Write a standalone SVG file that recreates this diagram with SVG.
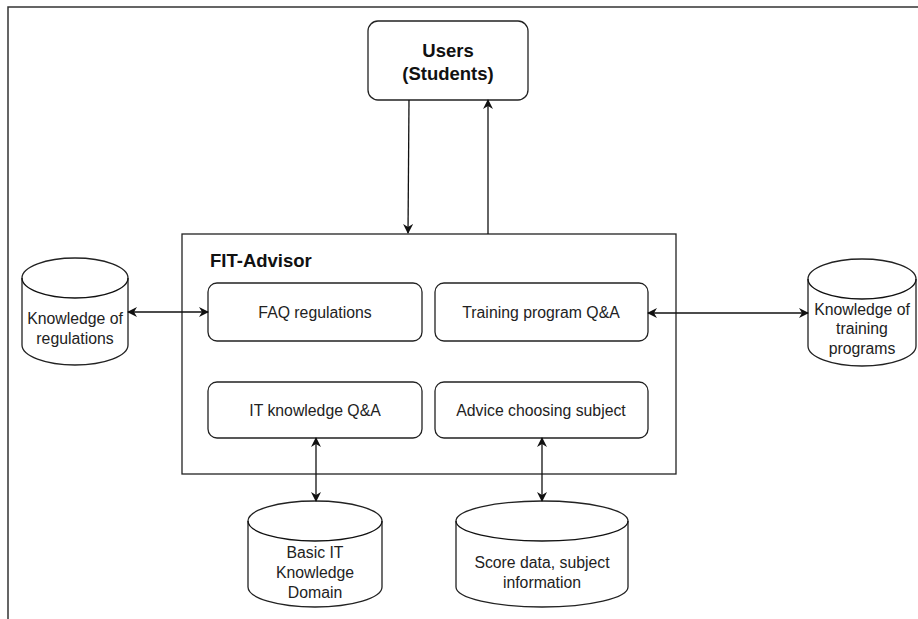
<svg xmlns="http://www.w3.org/2000/svg" width="918" height="619" viewBox="0 0 918 619">
<style>
.box{fill:#fff;stroke:#222;stroke-width:1.3}
.ln{fill:none;stroke:#111;stroke-width:1.3}
.t{font-family:"Liberation Sans",Arial,sans-serif;font-size:15.8px;fill:#222;text-anchor:middle}
.b{font-family:"Liberation Sans",Arial,sans-serif;font-size:18.5px;font-weight:bold;fill:#111}
</style>
<defs>
<marker id="ah" viewBox="0 0 10 10" refX="9" refY="5" markerWidth="10" markerHeight="10" orient="auto-start-reverse" markerUnits="userSpaceOnUse">
<path d="M0,0 L10,5 L0,10 L3,5 Z" fill="#111"/>
</marker>
</defs>
<rect width="918" height="619" fill="#fff"/>
<path d="M8,619 L8,7 L918,7" fill="none" stroke="#333" stroke-width="1.5"/>
<g id="users">
<rect class="box" x="368" y="21" width="160" height="79" rx="10"/>
<text class="b" x="448" y="57" text-anchor="middle">Users</text>
<text class="b" x="448" y="80" text-anchor="middle">(Students)</text>
</g>
<g id="fit-advisor">
<rect class="box" x="182" y="234" width="494" height="240"/>
<text class="b" x="210" y="267">FIT-Advisor</text>
</g>
<g id="faq">
<rect class="box" x="208" y="283" width="214" height="58" rx="9"/>
<text class="t" x="315" y="318">FAQ regulations</text>
</g>
<g id="training">
<rect class="box" x="435" y="283" width="213" height="58" rx="9"/>
<text class="t" x="541" y="318">Training program Q&amp;A</text>
</g>
<g id="it">
<rect class="box" x="208" y="382" width="214" height="56" rx="9"/>
<text class="t" x="315" y="416">IT knowledge Q&amp;A</text>
</g>
<g id="advice">
<rect class="box" x="435" y="382" width="213" height="56" rx="9"/>
<text class="t" x="541" y="416">Advice choosing subject</text>
</g>
<g id="db-regulations">
<path class="box" d="M22,278 A53,20 0 0 1 128,278 L128,345 A53,20 0 0 1 22,345 Z"/>
<path class="ln" d="M22,278 A53,20 0 0 0 128,278"/>
<text class="t" x="75" y="324">Knowledge of</text>
<text class="t" x="75" y="344">regulations</text>
</g>
<g id="db-training">
<path class="box" d="M808,279 A54,20 0 0 1 916,279 L916,346 A54,20 0 0 1 808,346 Z"/>
<path class="ln" d="M808,279 A54,20 0 0 0 916,279"/>
<text class="t" x="862" y="315">Knowledge of</text>
<text class="t" x="862" y="334">training</text>
<text class="t" x="862" y="354">programs</text>
</g>
<g id="db-basic-it">
<path class="box" d="M248,521 A67,20 0 0 1 382,521 L382,587 A67,20 0 0 1 248,587 Z"/>
<path class="ln" d="M248,521 A67,20 0 0 0 382,521"/>
<text class="t" x="315" y="558">Basic IT</text>
<text class="t" x="315" y="578">Knowledge</text>
<text class="t" x="315" y="598">Domain</text>
</g>
<g id="db-score">
<path class="box" d="M456,521 A86,20 0 0 1 628,521 L628,587 A86,20 0 0 1 456,587 Z"/>
<path class="ln" d="M456,521 A86,20 0 0 0 628,521"/>
<text class="t" x="542" y="568">Score data, subject</text>
<text class="t" x="542" y="588">information</text>
</g>
<g id="connectors">
<path class="ln" d="M409,100 L408,233" marker-end="url(#ah)"/>
<path class="ln" d="M488,234 L488,100" marker-end="url(#ah)"/>
<path class="ln" d="M128,312 L208,312" marker-start="url(#ah)" marker-end="url(#ah)"/>
<path class="ln" d="M648,313 L808,313" marker-start="url(#ah)" marker-end="url(#ah)"/>
<path class="ln" d="M316,438 L316,501" marker-start="url(#ah)" marker-end="url(#ah)"/>
<path class="ln" d="M542,438 L542,501" marker-start="url(#ah)" marker-end="url(#ah)"/>
</g>
</svg>
